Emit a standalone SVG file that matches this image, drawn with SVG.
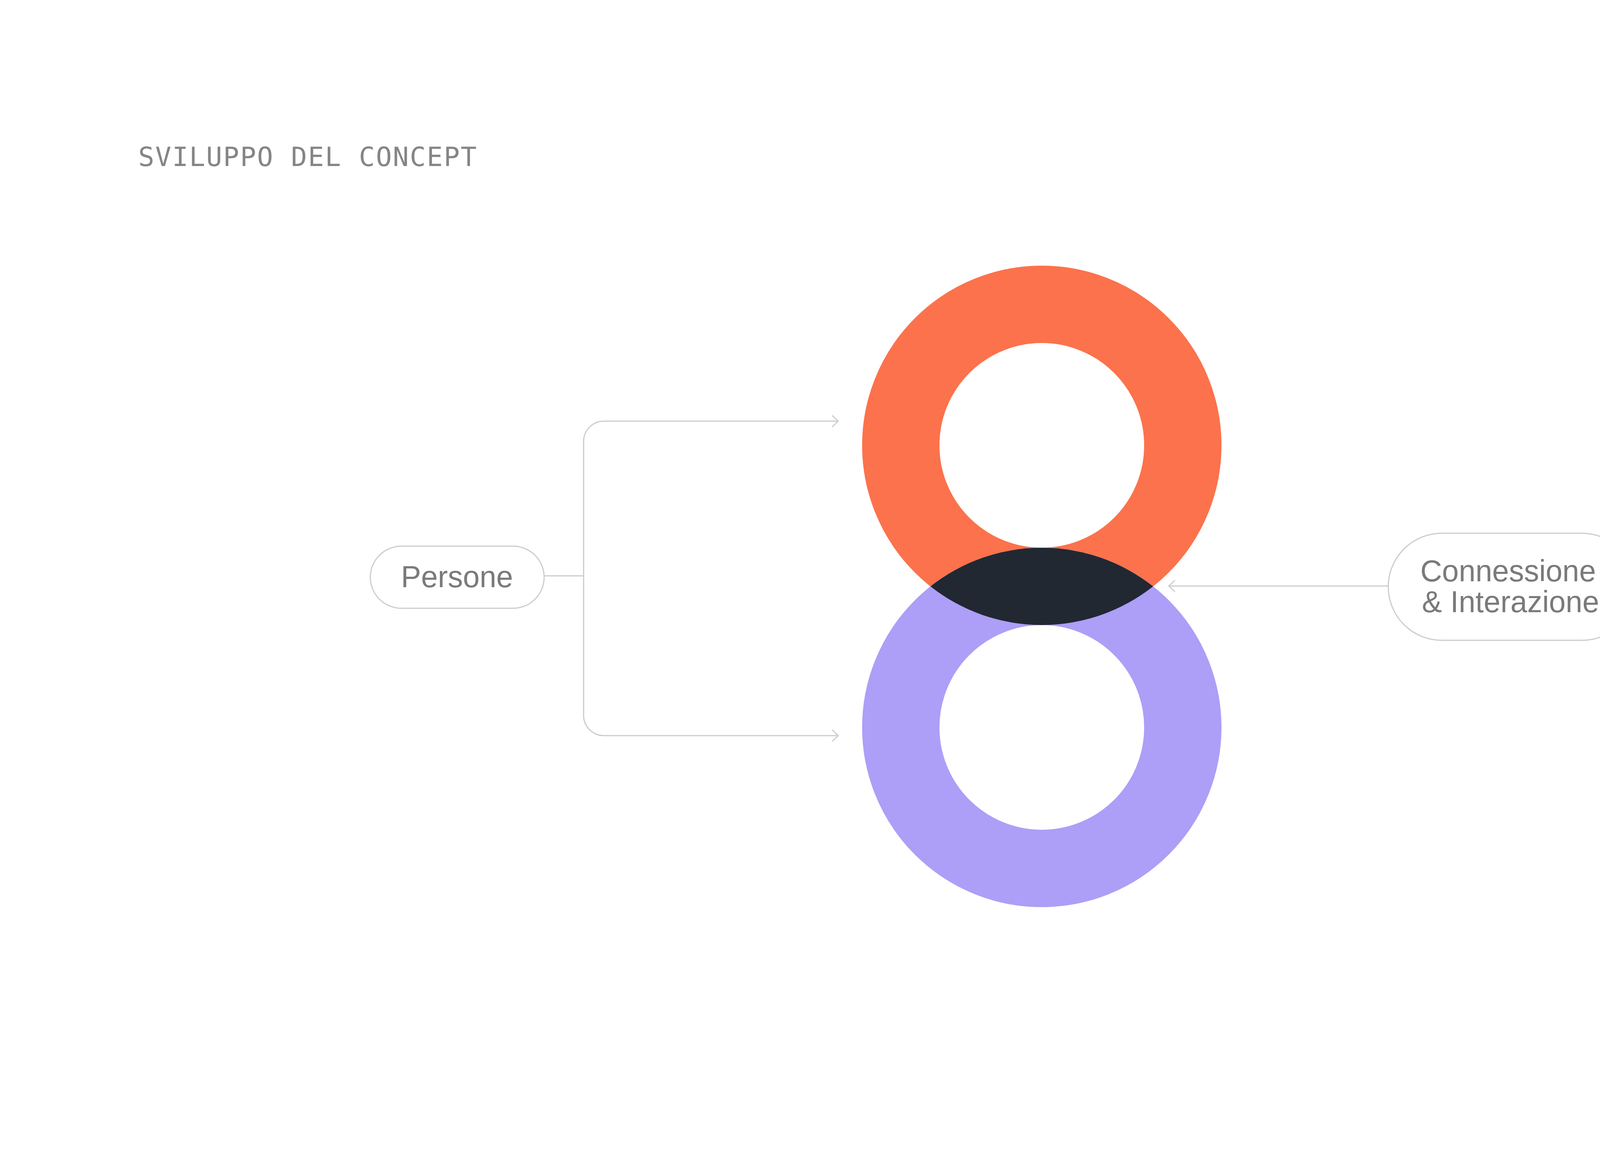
<svg xmlns="http://www.w3.org/2000/svg" width="5334" height="3000" viewBox="0 0 5334 3000">
  <style>
    .title { font-family: "DejaVu Sans Mono", "Liberation Mono", monospace; font-size: 68px; letter-spacing: 2.5px; fill: #858585; }
    .label { font-family: "Liberation Sans", Arial, sans-serif; font-size: 77px; fill: #7a7a7a; }
    .pill { fill: #ffffff; stroke: #cccccc; stroke-width: 3; }
    .conn { fill: none; stroke: #cccccc; stroke-width: 3; }
  </style>
  <defs>
    <marker id="chev" markerUnits="userSpaceOnUse" markerWidth="40" markerHeight="40" viewBox="-20 -20 40 40" refX="0" refY="0" orient="auto">
      <path d="M-15,-14 L0,0 L-15,14" fill="none" stroke="#cccccc" stroke-width="3" stroke-linecap="round" stroke-linejoin="round"/>
    </marker>
  </defs>
  <rect width="5334" height="3000" fill="#ffffff"/>

  <text class="title" x="354" y="425">SVILUPPO DEL CONCEPT</text>

  <g id="ring-top">
    <circle cx="2667" cy="1140" r="361" fill="none" stroke="#FC724C" stroke-width="198"/>
  </g>
  <g id="ring-bottom">
    <circle cx="2667" cy="1862" r="361" fill="none" stroke="#AD9EF7" stroke-width="198"/>
  </g>
  <g id="overlap">
    <path d="M2382,1501 A460,460 0 0 1 2952,1501 A460,460 0 0 1 2382,1501 Z" fill="#212832"/>
  </g>

  <g id="connectors">
    <path class="conn" d="M1393,1474 H1494"/>
    <path class="conn" d="M1494,1480 V1130 A52,52 0 0 1 1546,1078 H2146" marker-end="url(#chev)"/>
    <path class="conn" d="M1494,1480 V1831 A52,52 0 0 0 1546,1883 H2146" marker-end="url(#chev)"/>
    <path class="conn" d="M3554,1500 H2992" marker-end="url(#chev)"/>
  </g>

  <g id="node-persone">
    <rect class="pill" x="948" y="1398" width="445" height="159" rx="79.5" ry="79.5"/>
    <text class="label" x="1170" y="1503" text-anchor="middle">Persone</text>
  </g>

  <g id="node-connessione">
    <rect class="pill" x="3554" y="1365" width="633" height="274" rx="137" ry="137"/>
    <text class="label" x="3636" y="1488">Connessione</text>
    <text class="label" x="3640" y="1567">&amp; Interazione</text>
  </g>
</svg>
